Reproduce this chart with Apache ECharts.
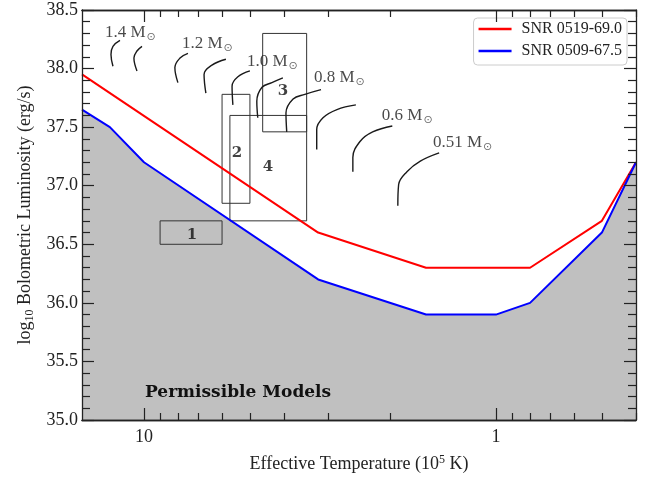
<!DOCTYPE html>
<html>
<head>
<meta charset="utf-8">
<script src="https://cdn.jsdelivr.net/npm/echarts@6/dist/echarts.min.js"></script>
<style>
  html, body { margin: 0; padding: 0; background: #fff; }
  #chart { width: 649px; height: 478px; }
</style>
</head>
<body>
<div id="chart"></div>
<script>
// Luminosity limits (log10 erg/s) against effective temperature (1e5 K)
const redName = 'SNR 0519-69.0';
const redTemp = [15, 3.2, 1.58, 0.8, 0.5, 0.4];
const redLum = [37.95, 36.6, 36.3, 36.3, 36.7, 37.2];

const blueName = 'SNR 0509-67.5';
const blueTemp = [15, 12.5, 10, 3.2, 1.58, 1.0, 0.8, 0.5, 0.4];
const blueLum = [37.65, 37.5, 37.2, 36.2, 35.9, 35.9, 36.0, 36.6, 37.2];

// Candidate source regions: temperature and luminosity ranges
const boxIds = ['1', '2', '3', '4'];
const boxTemp = [[6, 9], [5, 6], [3.45, 4.6], [3.45, 5.7]];
const boxLum = [[36.5, 36.7], [36.85, 37.78], [37.46, 38.3], [36.7, 37.6]];
const boxLabelTemp = [7.31, 5.44, 4.03, 4.44];
const boxLabelLum = [36.58, 37.28, 37.81, 37.16];

// Accreting white dwarf tracks
const trackTemp = [
  [11.70, 12.25, 12.41, 12.25],
  [10.13, 10.47, 10.68, 10.47],
  [7.50, 7.90, 8.17, 8.01],
  [5.85, 6.41, 6.75, 6.67],
  [5.00, 5.41, 5.62, 5.59],
  [4.03, 4.33, 4.62, 4.78, 4.75],
  [3.14, 3.49, 3.77, 3.95, 3.93],
  [2.50, 2.83, 3.10, 3.23, 3.23],
  [1.97, 2.24, 2.43, 2.55, 2.55],
  [1.45, 1.64, 1.79, 1.89, 1.90]
];
const trackLum = [
  [38.24, 38.19, 38.12, 38.02],
  [38.19, 38.15, 38.09, 37.98],
  [38.13, 38.09, 38.01, 37.88],
  [38.08, 38.03, 37.95, 37.79],
  [37.98, 37.93, 37.85, 37.69],
  [37.92, 37.88, 37.84, 37.72, 37.58],
  [37.82, 37.78, 37.74, 37.62, 37.46],
  [37.69, 37.65, 37.58, 37.48, 37.31],
  [37.51, 37.46, 37.38, 37.24, 37.12],
  [37.28, 37.21, 37.12, 37.01, 36.83]
];
const massLabels = ['1.4', '1.2', '1.0', '0.8', '0.6', '0.51'];
const massLabelTemp = [12.91, 7.80, 5.10, 3.29, 2.11, 1.51];
const massLabelLum = [38.31, 38.21, 38.06, 37.92, 37.60, 37.37];

// Axis ticks
const xMajorTicks = [1, 10];
const xMinorTicks = [0.4, 0.5, 0.6, 0.7, 0.8, 0.9, 2, 3, 4, 5, 6, 7, 8, 9];
const yMin = 35, yMax = 38.5, yStep = 0.5;

const SERIF = '"Liberation Serif", "DejaVu Serif", serif';
const INK = '#222';

const zip = (a, b) => a.map((v, i) => [v, b[i]]);

function xAxisOf(position, ticks, len, labels) {
  return {
    type: 'log', logBase: 10, min: 0.4, max: 15, inverse: true,
    position: position, z: 10,
    axisLine: { show: true, lineStyle: { color: INK, width: 1.3 } },
    axisTick: { show: true, inside: true, length: len, customValues: ticks, lineStyle: { color: INK, width: 1.2 } },
    axisLabel: labels
      ? { show: true, customValues: ticks, formatter: v => String(Math.round(v)), color: INK, fontFamily: SERIF, fontSize: 18, margin: 8 }
      : { show: false },
    splitLine: { show: false }
  };
}

function yAxisOf(position, labels) {
  return {
    type: 'value', min: yMin, max: yMax, interval: yStep, position: position, z: 10,
    axisLine: { show: true, lineStyle: { color: INK, width: 1.3 } },
    axisTick: { show: true, inside: true, length: 12, lineStyle: { color: INK, width: 1.2 } },
    minorTick: { show: true, splitNumber: 5, length: 8, lineStyle: { color: INK, width: 1.2 } },
    axisLabel: labels
      ? { show: true, formatter: v => v.toFixed(1), color: INK, fontFamily: SERIF, fontSize: 18, margin: 4 }
      : { show: false },
    splitLine: { show: false }
  };
}

const series = [];

// Shaded permissible region below the blue limit
series.push({
  type: 'line', name: 'region', data: zip(blueTemp, blueLum),
  symbol: 'none', lineStyle: { width: 0 },
  areaStyle: { color: '#c0c0c0', opacity: 1, origin: 'start' },
  z: 1, silent: true
});

// Region outlines
boxIds.forEach((id, i) => {
  const [t0, t1] = boxTemp[i];
  const [l0, l1] = boxLum[i];
  series.push({
    type: 'line', name: 'box' + id,
    data: [[t0, l0], [t1, l0], [t1, l1], [t0, l1], [t0, l0]],
    symbol: 'none', lineStyle: { color: '#333', width: 1 }, z: 3, silent: true
  });
});

// Tracks
trackTemp.forEach((temps, i) => {
  series.push({
    type: 'line', name: 'track' + i, data: zip(temps, trackLum[i]),
    symbol: 'none', smooth: 0.4, lineStyle: { color: '#1a1a1a', width: 1.4 }, z: 3, silent: true
  });
});

// Limits
series.push({
  type: 'line', name: redName, data: zip(redTemp, redLum),
  symbol: 'none', color: '#ff0000', lineStyle: { color: '#ff0000', width: 2 }, z: 5
});
series.push({
  type: 'line', name: blueName, data: zip(blueTemp, blueLum),
  symbol: 'none', color: '#0000ff', lineStyle: { color: '#0000ff', width: 2 }, z: 5
});

// Region numbers
series.push({
  type: 'scatter', name: 'boxLabels', symbolSize: 0, z: 6, silent: true,
  data: boxIds.map((id, i) => ({ name: id, value: [boxLabelTemp[i], boxLabelLum[i]] })),
  label: {
    show: true, position: 'inside', formatter: p => p.name,
    color: '#111', fontFamily: '"DejaVu Serif", serif', fontWeight: 'bold', fontSize: 15
  }
});

// Mass annotations
series.push({
  type: 'scatter', name: 'massLabels', symbolSize: 0, z: 6, silent: true,
  data: massLabels.map((m, i) => ({ name: m, value: [massLabelTemp[i], massLabelLum[i]] })),
  label: {
    show: true, position: 'right', distance: 0,
    formatter: p => '{m|' + p.name + ' M}{s|\u2299}',
    rich: {
      m: { color: '#1a1a1a', fontFamily: SERIF, fontSize: 17, lineHeight: 20, verticalAlign: 'middle' },
      s: { color: '#444', fontFamily: '"DejaVu Sans", sans-serif', fontSize: 11, lineHeight: 20, verticalAlign: 'bottom', padding: [0, 0, 0, 1] }
    }
  }
});

const chart = echarts.init(document.getElementById('chart'), null, { renderer: 'canvas' });
chart.setOption({
  animation: false,
  backgroundColor: '#fff',
  grid: { left: 82, right: 13, top: 10, bottom: 56 },
  xAxis: [
    Object.assign(xAxisOf('bottom', xMajorTicks, 12, true), {
      name: 'Effective Temperature (10{sup|5} K)', nameLocation: 'middle', nameGap: 34,
      nameTextStyle: {
        color: INK, fontFamily: SERIF, fontSize: 18,
        rich: { sup: { fontFamily: SERIF, fontSize: 12, verticalAlign: 'top', padding: [0, 0, 8, 0] } }
      }
    }),
    xAxisOf('bottom', xMinorTicks, 7, false),
    xAxisOf('top', xMajorTicks, 12, false),
    xAxisOf('top', xMinorTicks, 7, false)
  ],
  yAxis: [
    Object.assign(yAxisOf('left', true), {
      name: 'log{sub|10} Bolometric Luminosity (erg/s)', nameLocation: 'middle', nameGap: 42, nameRotate: 90,
      nameTextStyle: {
        color: INK, fontFamily: SERIF, fontSize: 18,
        rich: { sub: { fontFamily: SERIF, fontSize: 12, verticalAlign: 'bottom', padding: [8, 0, 0, 0] } }
      }
    }),
    yAxisOf('right', false)
  ],
  legend: {
    show: true, orient: 'vertical', right: 22, top: 18,
    data: [redName, blueName],
    icon: 'rect', itemWidth: 33, itemHeight: 2.5, itemGap: 6,
    padding: [3, 5, 6, 5],
    borderColor: '#cccccc', borderWidth: 1, borderRadius: 4,
    backgroundColor: 'rgba(255,255,255,0.85)',
    textStyle: { color: INK, fontFamily: SERIF, fontSize: 16, padding: [0, 0, 0, 5] }
  },
  graphic: [{
    type: 'text', left: 145, top: 384, z: 10, silent: true,
    style: { text: 'Permissible Models', font: 'bold 17px "DejaVu Serif", serif', fill: '#111' }
  }],
  series: series
});
</script>
</body>
</html>
